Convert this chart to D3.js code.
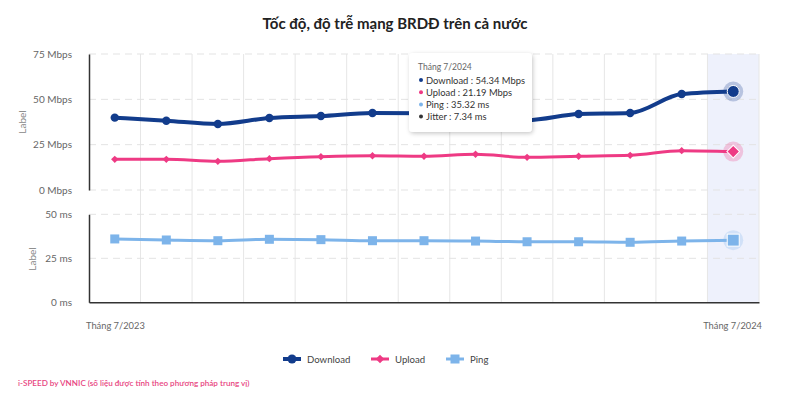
<!DOCTYPE html>
<html><head><meta charset="utf-8">
<script src="https://cdn.jsdelivr.net/npm/d3@7"></script>
<style>
body{margin:0;background:#fff;font-family:Lato,"Noto Sans",sans-serif;}
svg{display:block;}
</style></head>
<body>
<svg id="c" width="810" height="401"></svg>
<script>
const months = ["Tháng 7/2023","Tháng 8/2023","Tháng 9/2023","Tháng 10/2023","Tháng 11/2023","Tháng 12/2023","Tháng 1/2024","Tháng 2/2024","Tháng 3/2024","Tháng 4/2024","Tháng 5/2024","Tháng 6/2024","Tháng 7/2024"];
const download = [39.9, 38.2, 36.4, 39.7, 40.8, 42.5, 42.3, 41.2, 38.5, 41.9, 42.5, 52.9, 54.34];
const upload   = [16.9, 16.9, 15.8, 17.3, 18.4, 18.9, 18.6, 19.7, 18.0, 18.6, 19.1, 21.7, 21.19];
const ping     = [36.0, 35.4, 35.0, 35.8, 35.6, 35.0, 35.0, 34.8, 34.4, 34.4, 34.1, 34.8, 35.32];
const jitter   = [null, null, null, null, null, null, null, null, null, null, null, null, 7.34];
const speedTicks = [0, 25, 50, 75];
const pingTicks = [0, 25, 50];
const seriesNames = ["Download", "Upload", "Ping"];
const title = "Tốc độ, độ trễ mạng BRDĐ trên cả nước";
const footer = "i-SPEED by VNNIC (số liệu được tính theo phương pháp trung vị)";
const hoverIndex = 12;

const C = {dl:"#123c8c", ul:"#ee3a84", pg:"#7db4ea", jt:"#333333"};
const svg = d3.select("#c");
const L = 89, R = 759;
const topY0 = 190, topY1 = 54, botY0 = 302.3, botY1 = 214.3;

const x = d3.scaleBand().domain(months).range([L, R]).paddingInner(0).paddingOuter(0);
const cx = d => x(d) + x.bandwidth()/2;
const yS = d3.scaleLinear().domain([0, 75]).range([topY0, topY1]);
const yP = d3.scaleLinear().domain([0, 50]).range([botY0, botY1]);

// title
svg.append("text").attr("x", 395).attr("y", 29).attr("text-anchor","middle")
  .attr("font-size", 15).attr("font-weight", 700).attr("fill","#222").text(title);

// highlight band
svg.append("rect").attr("x", x(months[hoverIndex])).attr("y", topY1)
  .attr("width", x.bandwidth()).attr("height", botY0 - topY1).attr("fill", "#eef1fc");

// vertical grid lines
svg.append("g").selectAll("line").data(months.slice(1).concat(["__end"])).join("line")
  .attr("x1", (d,i) => i < months.length-1 ? x(d) : R)
  .attr("x2", (d,i) => i < months.length-1 ? x(d) : R)
  .attr("y1", topY1).attr("y2", botY0).attr("stroke", "#e6e6e6").attr("stroke-width", 1);
svg.append("line").attr("x1", L).attr("x2", L).attr("y1", topY0).attr("y2", botY1).attr("stroke","#fff").attr("stroke-width",2);

// horizontal dashed grid
const grid = (scale, ticks) => svg.append("g").selectAll("line").data(ticks).join("line")
  .attr("x1", L).attr("x2", R).attr("y1", d => scale(d)).attr("y2", d => scale(d))
  .attr("stroke", "#e3e3e3").attr("stroke-dasharray", "7,5").attr("stroke-width", 1);
grid(yS, speedTicks);
grid(yP, pingTicks.filter(d => d > 0));

// y axes
const axS = svg.append("g").attr("transform", `translate(${L},0)`)
  .call(d3.axisLeft(yS).tickValues(speedTicks).tickSize(0).tickPadding(17).tickFormat(d => d + " Mbps"));
const axP = svg.append("g").attr("transform", `translate(${L},0)`)
  .call(d3.axisLeft(yP).tickValues(pingTicks).tickSize(0).tickPadding(17).tickFormat(d => d + " ms"));
[axS, axP].forEach(a => {
  a.select(".domain").attr("stroke", "#333").attr("stroke-width", 1.5);
  a.selectAll("text").attr("font-family","Lato,sans-serif").attr("font-size", 10).attr("fill", "#666");
});
// x axis (bottom)
const axX = svg.append("g").attr("transform", `translate(0,${botY0})`)
  .call(d3.axisBottom(x).tickValues([months[0], months[months.length-1]]).tickSize(0).tickFormat(d => d));
axX.select(".domain").attr("stroke", "#333").attr("stroke-width", 1.5);
axX.selectAll(".tick").attr("transform", (d,i) => `translate(${i===0 ? L-3 : R+3},0)`);
axX.selectAll("text").attr("y", 27).attr("dy", 0).attr("font-family","Lato,sans-serif").attr("font-size", 9.3).attr("fill","#666")
  .attr("text-anchor", (d,i) => i===0 ? "start" : "end");

// axis titles
svg.append("text").attr("transform", "translate(26,122) rotate(-90)").attr("text-anchor","middle")
  .attr("font-size", 10).attr("fill", "#888").text("Label");
svg.append("text").attr("transform", "translate(36,259) rotate(-90)").attr("text-anchor","middle")
  .attr("font-size", 10).attr("fill", "#888").text("Label");

// lines
const mk = (vals, scale) => d3.line().x((d,i) => cx(months[i])).y(d => scale(d)).curve(d3.curveMonotoneX)(vals);
svg.append("path").attr("d", mk(ping, yP)).attr("fill","none").attr("stroke", C.pg).attr("stroke-width", 3);
svg.append("path").attr("d", mk(upload, yS)).attr("fill","none").attr("stroke", C.ul).attr("stroke-width", 3);
svg.append("path").attr("d", mk(download, yS)).attr("fill","none").attr("stroke", C.dl).attr("stroke-width", 4);

// halos for hovered
const hx = cx(months[hoverIndex]);
svg.append("circle").attr("cx", hx).attr("cy", yS(download[hoverIndex])).attr("r", 10).attr("fill", C.dl).attr("opacity", 0.25);
svg.append("circle").attr("cx", hx).attr("cy", yS(upload[hoverIndex])).attr("r", 10).attr("fill", C.ul).attr("opacity", 0.25);
svg.append("circle").attr("cx", hx).attr("cy", yP(ping[hoverIndex])).attr("r", 10).attr("fill", C.pg).attr("opacity", 0.25);

// markers
svg.append("g").selectAll("rect").data(ping).join("rect")
  .attr("x", (d,i) => cx(months[i]) - (i===hoverIndex ? 6 : 4.5))
  .attr("y", (d,i) => yP(d) - (i===hoverIndex ? 6 : 4.5))
  .attr("width", (d,i) => i===hoverIndex ? 12 : 9).attr("height", (d,i) => i===hoverIndex ? 12 : 9)
  .attr("fill", C.pg).attr("stroke", (d,i) => i===hoverIndex ? "#fff" : "none").attr("stroke-width", 1);
svg.append("g").selectAll("path").data(upload).join("path")
  .attr("transform", (d,i) => `translate(${cx(months[i])},${yS(d)}) rotate(45)`)
  .attr("d", (d,i) => { const s = i===hoverIndex ? 4.5 : 2.6; return `M${-s},${-s}H${s}V${s}H${-s}Z`; })
  .attr("fill", C.ul).attr("stroke", (d,i) => i===hoverIndex ? "#fff" : "none").attr("stroke-width", 1);
svg.append("g").selectAll("circle").data(download).join("circle")
  .attr("cx", (d,i) => cx(months[i])).attr("cy", d => yS(d))
  .attr("r", (d,i) => i===hoverIndex ? 6 : 4.2)
  .attr("fill", C.dl).attr("stroke", (d,i) => i===hoverIndex ? "#fff" : "none").attr("stroke-width", 1);

// tooltip
const defs = svg.append("defs");
const f = defs.append("filter").attr("id","sh").attr("x","-20%").attr("y","-20%").attr("width","140%").attr("height","140%");
f.append("feDropShadow").attr("dx",1).attr("dy",1.5).attr("stdDeviation",2).attr("flood-color","#000").attr("flood-opacity",0.22);
const tt = svg.append("g").attr("transform","translate(409,53)");
tt.append("rect").attr("width", 123).attr("height", 79).attr("rx", 4).attr("fill","#fff").attr("filter","url(#sh)");
tt.append("text").attr("x", 9).attr("y", 17).attr("font-size", 8.5).attr("fill","#666").text(months[hoverIndex]);
const ttRows = [
  {c: C.dl, t: `Download : ${download[hoverIndex]} Mbps`},
  {c: C.ul, t: `Upload : ${upload[hoverIndex]} Mbps`},
  {c: C.pg, t: `Ping : ${ping[hoverIndex]} ms`},
  {c: C.jt, t: `Jitter : ${jitter[hoverIndex]} ms`}
];
ttRows.forEach((r, i) => {
  const yy = 27 + i*12.2;
  tt.append("circle").attr("cx", 12).attr("cy", yy).attr("r", 2).attr("fill", r.c);
  tt.append("text").attr("x", 17).attr("y", yy + 3.6).attr("font-size", 9.4).attr("fill","#333").text(r.t);
});

// legend
const legX = [283, 371, 446];
const legC = [C.dl, C.ul, C.pg];
seriesNames.forEach((n, i) => {
  const g = svg.append("g").attr("transform", `translate(${legX[i]},359)`);
  g.append("line").attr("x1",0).attr("x2",18).attr("stroke", legC[i]).attr("stroke-width", i===0 ? 4 : 3);
  if (i===0) g.append("circle").attr("cx",9).attr("r",4.5).attr("fill",legC[i]);
  if (i===1) g.append("path").attr("transform","translate(9,0) rotate(45)").attr("d","M-3,-3H3V3H-3Z").attr("fill",legC[i]);
  if (i===2) g.append("rect").attr("x",4.5).attr("y",-4.5).attr("width",9).attr("height",9).attr("fill",legC[i]);
  g.append("text").attr("x", 24).attr("y", 3.6).attr("font-size", 9.6).attr("fill","#444").text(n);
});

// footer
svg.append("text").attr("x", 18).attr("y", 385.5).attr("font-size", 8.1).attr("font-weight", 600)
  .attr("fill", "#e8457f").text(footer);
</script>
</body></html>
